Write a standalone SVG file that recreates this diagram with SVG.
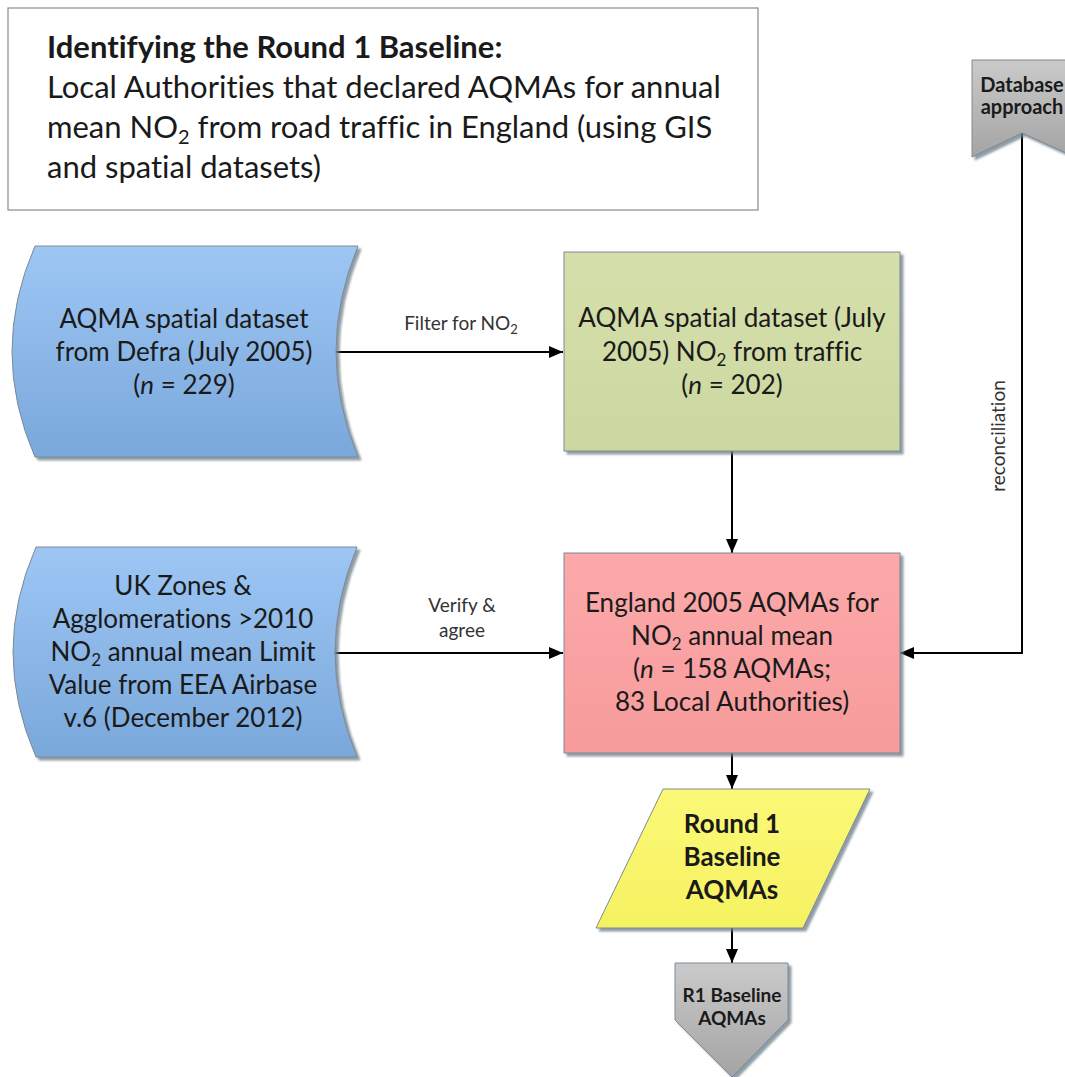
<svg xmlns="http://www.w3.org/2000/svg" width="1065" height="1077" viewBox="0 0 1065 1077">
  <style>
    text { font-family: Lato, "Liberation Sans", sans-serif; fill: #1a1a1a; font-variant-ligatures: none; }
    .title { font-size: 31px; }
    .body { font-size: 26px; text-anchor: middle; }
    .bold { font-weight: bold; text-anchor: middle; }
    .lbl { font-size: 19px; text-anchor: middle; fill: #333; }
    .shape { stroke: #7d8a96; stroke-width: 1; }
    .conn { fill: none; stroke: #000; stroke-width: 2; }
  </style>
  <defs>
    <linearGradient id="gBlue" x1="0" y1="0" x2="0" y2="1">
      <stop offset="0" stop-color="#9dc6f4"/>
      <stop offset="1" stop-color="#7aa8db"/>
    </linearGradient>
    <linearGradient id="gGreen" x1="0" y1="0" x2="0" y2="1">
      <stop offset="0" stop-color="#d5dfab"/>
      <stop offset="1" stop-color="#ccd8a0"/>
    </linearGradient>
    <linearGradient id="gPink" x1="0" y1="0" x2="0" y2="1">
      <stop offset="0" stop-color="#fca9aa"/>
      <stop offset="1" stop-color="#f79b9c"/>
    </linearGradient>
    <linearGradient id="gYellow" x1="0" y1="0" x2="0" y2="1">
      <stop offset="0" stop-color="#fbf877"/>
      <stop offset="1" stop-color="#f5f262"/>
    </linearGradient>
    <linearGradient id="gGray" x1="0" y1="0" x2="0" y2="1">
      <stop offset="0" stop-color="#cacaca"/>
      <stop offset="1" stop-color="#a4a4a4"/>
    </linearGradient>
    <filter id="shadow" x="-10%" y="-10%" width="130%" height="130%">
      <feDropShadow dx="3" dy="3" stdDeviation="1" flood-color="#6c7c86" flood-opacity="0.75"/>
    </filter>
    <marker id="arrow" viewBox="0 0 14 12" refX="14" refY="6" markerWidth="14" markerHeight="12" markerUnits="userSpaceOnUse" orient="auto">
      <path d="M0,0 L14,6 L0,12 Z" fill="#000"/>
    </marker>
  </defs>

  <!-- heading panel -->
  <g id="heading">
    <rect x="8" y="8" width="750" height="202" fill="#fff" stroke="#8a8a8a" stroke-width="1.2"/>
    <text class="title" x="47" y="58" font-weight="bold">Identifying the Round 1 Baseline:</text>
    <text class="title" x="47" y="98">Local Authorities that declared AQMAs for annual</text>
    <text class="title" x="47" y="138">mean NO<tspan font-size="20" dy="6">2</tspan><tspan dy="-6"> from road traffic in England (using GIS</tspan></text>
    <text class="title" x="47" y="178">and spatial datasets)</text>
  </g>

  <!-- connectors -->
  <g id="connectors">
    <path class="conn" d="M333,352 H563" marker-end="url(#arrow)"/>
    <path class="conn" d="M732,451 V553" marker-end="url(#arrow)"/>
    <path class="conn" d="M333,653 H563" marker-end="url(#arrow)"/>
    <path class="conn" d="M1022,133 V653 H900" marker-end="url(#arrow)"/>
    <path class="conn" d="M732,753 V789" marker-end="url(#arrow)"/>
    <path class="conn" d="M732,928 V963" marker-end="url(#arrow)"/>
    <text class="lbl" x="461" y="330">Filter for NO<tspan font-size="13" dy="4">2</tspan></text>
    <text class="lbl" x="462" y="612">Verify &amp;</text>
    <text class="lbl" x="462" y="637">agree</text>
    <text class="lbl" transform="translate(1005,436) rotate(-90)">reconciliation</text>
  </g>

  <!-- stored data: Defra AQMA set -->
  <g id="defra-dataset">
    <path class="shape" filter="url(#shadow)" fill="url(#gBlue)" d="M35,246 H358 Q314,351.5 358,457 H35 Q-11,351.5 35,246 Z"/>
    <text class="body" x="184" y="328">AQMA spatial dataset</text>
    <text class="body" x="184" y="361">from Defra (July 2005)</text>
    <text class="body" x="184" y="394">(<tspan font-style="italic">n</tspan> = 229)</text>
  </g>

  <!-- stored data: EEA Airbase zones -->
  <g id="eea-zones">
    <path class="shape" filter="url(#shadow)" fill="url(#gBlue)" d="M36,547 H357 Q313,652 357,757 H36 Q-10,652 36,547 Z"/>
    <text class="body" x="183" y="595">UK Zones &amp;</text>
    <text class="body" x="183" y="628">Agglomerations &gt;2010</text>
    <text class="body" x="183" y="661">NO<tspan font-size="17" dy="5">2</tspan><tspan dy="-5"> annual mean Limit</tspan></text>
    <text class="body" x="183" y="694">Value from EEA Airbase</text>
    <text class="body" x="183" y="727">v.6 (December 2012)</text>
  </g>

  <!-- filtered traffic NO2 set -->
  <g id="traffic-dataset">
    <rect class="shape" filter="url(#shadow)" fill="url(#gGreen)" x="564" y="252" width="336" height="199"/>
    <text class="body" x="732" y="327">AQMA spatial dataset (July</text>
    <text class="body" x="732" y="361">2005) NO<tspan font-size="17" dy="5">2</tspan><tspan dy="-5"> from traffic</tspan></text>
    <text class="body" x="732" y="394">(<tspan font-style="italic">n</tspan> = 202)</text>
  </g>

  <!-- England 2005 AQMAs -->
  <g id="england-aqmas">
    <rect class="shape" filter="url(#shadow)" fill="url(#gPink)" x="564" y="553" width="336" height="200"/>
    <text class="body" x="732" y="612">England 2005 AQMAs for</text>
    <text class="body" x="732" y="645">NO<tspan font-size="17" dy="5">2</tspan><tspan dy="-5"> annual mean</tspan></text>
    <text class="body" x="732" y="678">(<tspan font-style="italic">n</tspan> = 158 AQMAs;</text>
    <text class="body" x="732" y="711">83 Local Authorities)</text>
  </g>

  <!-- off-page reference: database approach -->
  <g id="database-approach">
    <path class="shape" filter="url(#shadow)" fill="url(#gGray)" d="M972,60 H1075 V157 L1022,133 L972,157 Z"/>
    <text class="bold" x="1022" y="92" font-size="20">Database</text>
    <text class="bold" x="1022" y="114" font-size="20">approach</text>
  </g>

  <!-- Round 1 baseline output -->
  <g id="round1-baseline">
    <path class="shape" filter="url(#shadow)" fill="url(#gYellow)" d="M663,789 H870 L803,928 H596 Z"/>
    <text class="bold" x="732" y="833" font-size="26">Round 1</text>
    <text class="bold" x="732" y="866" font-size="26">Baseline</text>
    <text class="bold" x="732" y="899" font-size="26">AQMAs</text>
  </g>

  <!-- off-page reference: R1 baseline -->
  <g id="r1-baseline">
    <path class="shape" filter="url(#shadow)" fill="url(#gGray)" d="M675,963 H788 V1020 L732,1077 L675,1020 Z"/>
    <text class="bold" x="732" y="1002" font-size="19">R1 Baseline</text>
    <text class="bold" x="732" y="1025" font-size="19">AQMAs</text>
  </g>
</svg>
